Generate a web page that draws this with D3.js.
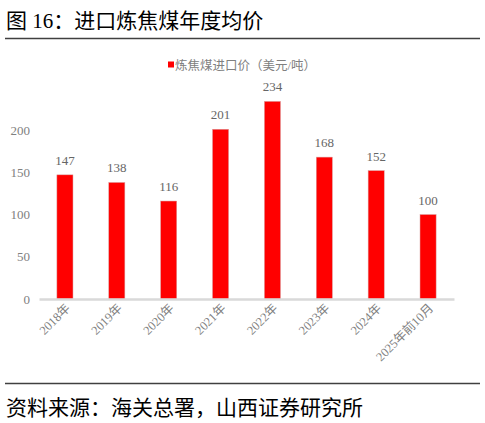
<!DOCTYPE html>
<html>
<head>
<meta charset="utf-8">
<script src="https://cdn.jsdelivr.net/npm/d3@7"></script>
<style>
  body { margin: 0; background: #fff; }
  svg { display: block; }
</style>
</head>
<body>
<div class="canvas"></div>
<script>
const years = ["2018年", "2019年", "2020年", "2021年", "2022年", "2023年", "2024年", "2025年前10月"]
const prices = [147, 138, 116, 201, 234, 168, 152, 100]
const yTicks = [0, 50, 100, 150, 200]
const seriesName = "炼焦煤进口价（美元/吨）"

const W = 485, H = 423
const serif = "'Liberation Serif', 'Noto Sans CJK SC', serif"

const svg = d3.select(".canvas")
            .append("svg")
            .attr('width', W)
            .attr('height', H)

// title + rules
svg.append('text')
    .attr('x', 6).attr('y', 28)
    .attr('font-family', serif)
    .attr('font-size', 21)
    .attr('fill', '#000')
    .text('图 16：进口炼焦煤年度均价')

svg.append('line')
    .attr('x1', 5).attr('x2', 480).attr('y1', 38.5).attr('y2', 38.5)
    .attr('stroke', '#404040').attr('stroke-width', 1.5)

svg.append('line')
    .attr('x1', 5).attr('x2', 480).attr('y1', 383.5).attr('y2', 383.5)
    .attr('stroke', '#404040').attr('stroke-width', 1.5)

svg.append('text')
    .attr('x', 6).attr('y', 415)
    .attr('font-family', serif)
    .attr('font-size', 21)
    .attr('fill', '#000')
    .text('资料来源：海关总署，山西证券研究所')

// plot area
const margin = {left: 39, right: 31, top: 60, bottom: 124}
const graphWidth = W - margin.left - margin.right
const graphHeight = H - margin.top - margin.bottom

const graph = svg.append('g')
    .attr('transform', `translate(${margin.left}, ${margin.top})`)

const xScale = d3.scaleBand()
    .domain(years)
    .range([0, graphWidth])
    .paddingInner(0.69)
    .paddingOuter(0.345)

const yScale = d3.scaleLinear()
    .domain([0, 283])
    .range([graphHeight, 0])

// y axis labels only
const yAxis = d3.axisLeft(yScale).tickValues(yTicks).tickSize(0).tickPadding(9)
const yAxisGroup = graph.append('g').call(yAxis)
yAxisGroup.select('.domain').remove()
yAxisGroup.selectAll('text')
    .attr('font-family', serif)
    .attr('font-size', 13)
    .attr('fill', '#808080')

// bars
graph.selectAll('rect.bar')
    .data(prices)
    .enter().append('rect')
    .attr('class', 'bar')
    .attr('x', (d, i) => xScale(years[i]))
    .attr('width', xScale.bandwidth())
    .attr('y', d => yScale(d))
    .attr('height', d => yScale(0) - yScale(d))
    .attr('fill', '#ff0000')
    .attr('stroke', '#d9a0a0')
    .attr('stroke-width', 0.5)

// value labels
graph.selectAll('text.val')
    .data(prices)
    .enter().append('text')
    .attr('class', 'val')
    .attr('x', (d, i) => xScale(years[i]) + xScale.bandwidth() / 2)
    .attr('y', d => yScale(d) - 10)
    .attr('text-anchor', 'middle')
    .attr('font-family', serif)
    .attr('font-size', 13)
    .attr('fill', '#666')
    .text(d => d)

// x axis
const xAxis = d3.axisBottom(xScale).tickSize(0).tickPadding(0)
const xAxisGroup = graph.append('g')
    .attr('transform', `translate(0, ${graphHeight})`)
    .call(xAxis)
xAxisGroup.select('.domain')
    .attr('stroke', '#d9d9d9')
    .attr('stroke-width', 2.5)
xAxisGroup.selectAll('text')
    .attr('font-family', serif)
    .attr('font-size', 12.5)
    .attr('fill', '#808080')
    .attr('text-anchor', 'end')
    .attr('dy', 0)
    .attr('transform', 'translate(6, 10) rotate(-45)')

// legend
const legend = svg.append('g').attr('transform', 'translate(168, 65)')
legend.append('rect')
    .attr('x', 0).attr('y', -3.5)
    .attr('width', 6).attr('height', 6)
    .attr('fill', '#ff0000')
legend.append('text')
    .attr('x', 7).attr('y', 4.5)
    .attr('font-family', serif)
    .attr('font-size', 12.5)
    .attr('fill', '#808080')
    .text(seriesName)
</script>
</body>
</html>
